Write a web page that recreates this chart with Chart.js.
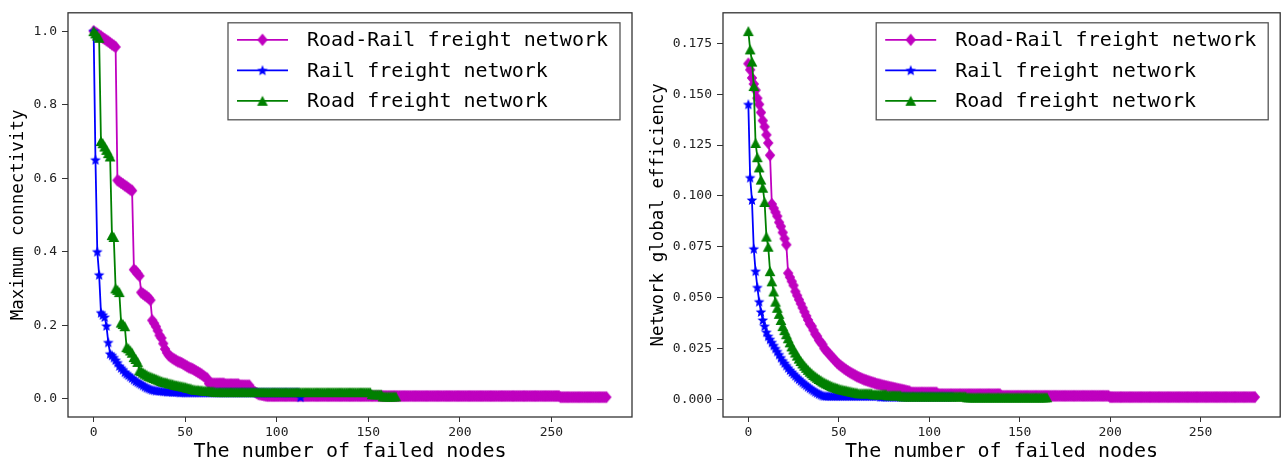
<!DOCTYPE html>
<html>
<head>
<meta charset="utf-8">
<script src="https://cdn.jsdelivr.net/npm/chart.js@4.4.1/dist/chart.umd.min.js"></script>
<style>
  html, body { margin: 0; padding: 0; background: #fff; }
  #wrap { position: relative; width: 1286px; height: 467px; overflow: hidden; }
  canvas { position: absolute; top: 0; }
  #connChart { left: 0; }
  #effChart { left: 640px; }
</style>
</head>
<body>
<div id="wrap">
  <canvas id="connChart" width="640" height="467"></canvas>
  <canvas id="effChart" width="646" height="467"></canvas>
</div>
<script>
  // constant runs (plateaus in the tail of each curve)
  const rep = (v, n) => Array(n).fill(v);

  const seriesNames = ['Road-Rail freight network', 'Rail freight network', 'Road freight network'];
  const seriesColors = ['#bf00bf', '#0000ff', '#008000'];
  const xTicks = [0, 50, 100, 150, 200, 250];
  const connTicks = [0.0, 0.2, 0.4, 0.6, 0.8, 1.0];
  const effTicks = [0.000, 0.025, 0.050, 0.075, 0.100, 0.125, 0.150, 0.175];

  // left panel: maximum connectivity, one value per failed node
  const roadRailConn = [
    1.0, 0.996, 0.993, 0.989, 0.986, 0.982, 0.979, 0.975, 0.972, 0.968, 0.964, 0.961, 0.957,
    0.594, 0.591, 0.587, 0.584, 0.580, 0.577, 0.573, 0.569, 0.566,
    0.351, 0.347, 0.340, 0.334,
    0.289, 0.285, 0.281, 0.278, 0.274, 0.268,
    0.213, 0.205, 0.196, 0.185, 0.172, 0.165, 0.150, 0.135, 0.125,
    0.118, 0.114, 0.110, 0.107, 0.104, 0.101, 0.099, 0.097, 0.094, 0.091, 0.088, 0.085, 0.083, 0.081,
    0.078, 0.075, 0.072, 0.069, 0.066, 0.062, 0.058, 0.055,
    ...rep(0.041, 9), ...rep(0.039, 8), ...rep(0.036, 6),
    0.025, 0.021, 0.018, 0.015, 0.012, 0.011, 0.010, 0.009, 0.008,
    ...rep(0.007, 160), ...rep(0.004, 26)
  ];
  const railConn = [
    1.0, 0.65, 0.40, 0.337, 0.234, 0.228, 0.222, 0.198, 0.153, 0.122, 0.118, 0.112, 0.105, 0.098,
    0.089, 0.084, 0.079, 0.072, 0.068, 0.064, 0.060, 0.056, 0.052, 0.048, 0.045, 0.042, 0.039, 0.036,
    0.033, 0.030, 0.028, 0.026, 0.024,
    0.023, 0.022, 0.022, 0.021, 0.021, 0.020, 0.020, 0.019, 0.019, 0.019, 0.018, 0.018, 0.018, 0.018,
    0.017, 0.017, 0.017, 0.017, 0.017, 0.017, 0.017,
    ...rep(0.017, 59), 0.004
  ];
  const roadConn = [
    1.0, 0.994, 0.988, 0.982,
    0.701, 0.695, 0.686, 0.677, 0.668, 0.659,
    0.445, 0.440,
    0.300, 0.296, 0.290,
    0.207, 0.203, 0.197,
    0.140, 0.137, 0.131, 0.125,
    0.113, 0.108, 0.100,
    0.077, 0.075, 0.071, 0.068, 0.065, 0.062, 0.060, 0.058, 0.056, 0.054, 0.052, 0.050, 0.048, 0.046,
    0.045, 0.044, 0.042, 0.041, 0.040, 0.038, 0.037, 0.036, 0.035, 0.034, 0.033, 0.032, 0.030, 0.029,
    0.028, 0.026,
    0.025, 0.024, 0.024, 0.023, 0.023, 0.022, 0.022, 0.021, 0.021, 0.020, 0.020, 0.019,
    ...rep(0.018, 85), ...rep(0.012, 6), ...rep(0.006, 8)
  ];

  // right panel: network global efficiency
  const roadRailEff = [
    0.165, 0.162, 0.158, 0.155, 0.152, 0.148, 0.145, 0.141, 0.137, 0.134, 0.130, 0.126, 0.120,
    0.096, 0.094, 0.092, 0.090, 0.087, 0.085, 0.082, 0.079, 0.076,
    0.062, 0.060, 0.058, 0.056, 0.053, 0.051, 0.049, 0.047, 0.045, 0.043, 0.041, 0.039, 0.037, 0.036,
    0.034, 0.032, 0.031, 0.029, 0.028, 0.027, 0.025, 0.024, 0.023, 0.022, 0.021, 0.020, 0.019, 0.018,
    0.0172, 0.0165, 0.0158, 0.0151, 0.0145, 0.0139, 0.0133, 0.0128, 0.0123, 0.0118,
    0.0113, 0.0109, 0.0105, 0.0101, 0.0097, 0.0094, 0.0091, 0.0088, 0.0085, 0.0082,
    0.0079, 0.0076, 0.0074, 0.0072, 0.0069, 0.0067, 0.0065, 0.0063, 0.0061, 0.0059,
    0.0057, 0.0055, 0.0053, 0.0051, 0.0049, 0.0047, 0.0045, 0.0043, 0.0041, 0.0039,
    ...rep(0.0033, 15), ...rep(0.0025, 35), ...rep(0.0017, 60), ...rep(0.0011, 81)
  ];
  const railEff = [
    0.145, 0.109, 0.098, 0.074, 0.063, 0.055, 0.048, 0.043, 0.039, 0.036, 0.033, 0.031, 0.0295,
    0.028, 0.0265, 0.025, 0.0235, 0.022, 0.0205, 0.019, 0.0178, 0.0166, 0.0155,
    0.0144, 0.0134, 0.0125, 0.0116, 0.0107, 0.0099, 0.0091, 0.0083, 0.0076, 0.0069,
    0.0062, 0.0055, 0.0049, 0.0043, 0.0037, 0.0032, 0.0027, 0.0023, 0.0019, 0.0017,
    ...rep(0.0016, 30), ...rep(0.0012, 41)
  ];
  const roadEff = [
    0.181, 0.172, 0.166, 0.154, 0.126, 0.119, 0.114, 0.108, 0.104, 0.097,
    0.080, 0.075, 0.063, 0.058, 0.053, 0.048, 0.045, 0.042, 0.039, 0.036,
    0.034, 0.032, 0.030, 0.028, 0.026, 0.0245, 0.023, 0.0215, 0.020, 0.0188,
    0.0176, 0.0165, 0.0155, 0.0145, 0.0136, 0.0128, 0.012, 0.0113, 0.0106, 0.0100,
    0.0094, 0.0088, 0.0083, 0.0078, 0.0074, 0.007, 0.0066, 0.0062, 0.0059, 0.0056,
    0.0053, 0.005, 0.0048, 0.0046, 0.0044, 0.0042, 0.004, 0.0038, 0.0036, 0.0034, 0.0033,
    ...rep(0.003, 8), ...rep(0.0025, 8), ...rep(0.002, 8), ...rep(0.0015, 36), ...rep(0.001, 45)
  ];

  const monoFont = "'DejaVu Sans Mono', 'Liberation Mono', monospace";

  function makeMarker(kind, color) {
    const c = document.createElement('canvas');
    c.width = 14; c.height = 14;
    const g = c.getContext('2d');
    g.fillStyle = color;
    g.beginPath();
    if (kind === 'diamond') {
      g.moveTo(7, 0.8); g.lineTo(12.2, 7); g.lineTo(7, 13.2); g.lineTo(1.8, 7);
    } else if (kind === 'star') {
      for (let i = 0; i < 10; i++) {
        const r = i % 2 ? 2.5 : 5.6;
        const a = -Math.PI / 2 + i * Math.PI / 5;
        g.lineTo(7 + r * Math.cos(a), 7.4 + r * Math.sin(a));
      }
    } else {
      g.moveTo(7, 2); g.lineTo(12.4, 12); g.lineTo(1.6, 12);
    }
    g.closePath();
    g.fill();
    return c;
  }

  const markers = [
    makeMarker('diamond', seriesColors[0]),
    makeMarker('star', seriesColors[1]),
    makeMarker('triangle', seriesColors[2])
  ];

  function makeDataset(i, values) {
    return {
      label: seriesNames[i],
      data: values.map((v, k) => ({ x: k, y: v })),
      borderColor: seriesColors[i],
      backgroundColor: seriesColors[i],
      borderWidth: 1.8,
      pointStyle: markers[i],
      pointRadius: 4,
      showLine: true,
      tension: 0,
      order: 3 - i
    };
  }

  // box around the plot area, like matplotlib spines
  const frame = {
    id: 'frame',
    afterDatasetsDraw(chart) {
      const { ctx, chartArea: a } = chart;
      ctx.save();
      ctx.strokeStyle = '#333';
      ctx.lineWidth = 1.3;
      ctx.strokeRect(a.left, a.top, a.right - a.left, a.bottom - a.top);
      ctx.restore();
    }
  };

  // matplotlib style legend: line sample + marker + label
  const legendBox = {
    id: 'legendBox',
    afterDraw(chart) {
      const { ctx, chartArea: a } = chart;
      const w = 392, h = 97;
      const left = a.right - 12 - w, top = a.top + 10;
      ctx.save();
      ctx.fillStyle = '#fff';
      ctx.fillRect(left, top, w, h);
      ctx.strokeStyle = '#555';
      ctx.lineWidth = 1.3;
      ctx.strokeRect(left, top, w, h);
      chart.data.datasets.forEach((ds, i) => {
        const y = top + 17 + i * 30.5;
        ctx.strokeStyle = ds.borderColor;
        ctx.lineWidth = 1.8;
        ctx.beginPath();
        ctx.moveTo(left + 9, y);
        ctx.lineTo(left + 60, y);
        ctx.stroke();
        const m = ds.pointStyle;
        ctx.drawImage(m, left + 34.5 - m.width / 2, y - m.height / 2);
        ctx.fillStyle = '#000';
        ctx.font = '20px ' + monoFont;
        ctx.textBaseline = 'middle';
        ctx.fillText(ds.label, left + 79, y + 1);
      });
      ctx.restore();
    }
  };

  function panelOptions(cfg) {
    const tickFont = { family: monoFont, size: 13 };
    return {
      responsive: false,
      animation: false,
      events: [],
      layout: { padding: { top: 8, right: cfg.padRight, left: 0, bottom: 0 } },
      plugins: { legend: { display: false }, tooltip: { enabled: false } },
      scales: {
        x: {
          type: 'linear',
          min: -14, max: 294,
          afterBuildTicks: s => { s.ticks = xTicks.map(v => ({ value: v })); },
          afterFit: s => { s.height = 50; },
          border: { display: false },
          grid: { drawOnChartArea: false, drawTicks: true, tickLength: 5, color: '#333' },
          ticks: { font: tickFont, color: '#222', padding: 3, maxRotation: 0, callback: v => String(v) },
          title: {
            display: true, text: 'The number of failed nodes', color: '#000',
            font: { family: monoFont, size: 20 }, padding: { top: 0, bottom: 3 }
          }
        },
        y: {
          type: 'linear',
          min: cfg.yMin, max: cfg.yMax,
          afterBuildTicks: s => { s.ticks = cfg.yTicks.map(v => ({ value: v })); },
          afterFit: s => { s.width = cfg.yWidth; },
          border: { display: false },
          grid: { drawOnChartArea: false, drawTicks: true, tickLength: 6, color: '#333' },
          ticks: { font: tickFont, color: '#222', padding: 5, callback: v => v.toFixed(cfg.decimals) },
          title: {
            display: true, text: cfg.yTitle, color: '#000',
            font: { family: monoFont, size: 17.5 }, padding: { top: 8, bottom: 0 }
          }
        }
      }
    };
  }

  new Chart(document.getElementById('connChart'), {
    type: 'scatter',
    data: { datasets: [makeDataset(0, roadRailConn), makeDataset(1, railConn), makeDataset(2, roadConn)] },
    options: panelOptions({
      yMin: -0.05, yMax: 1.05, yTicks: connTicks, decimals: 1,
      yWidth: 68, padRight: 8, yTitle: 'Maximum connectivity'
    }),
    plugins: [frame, legendBox]
  });

  new Chart(document.getElementById('effChart'), {
    type: 'scatter',
    data: { datasets: [makeDataset(0, roadRailEff), makeDataset(1, railEff), makeDataset(2, roadEff)] },
    options: panelOptions({
      yMin: -0.0087, yMax: 0.19, yTicks: effTicks, decimals: 3,
      yWidth: 83, padRight: 1, yTitle: 'Network global efficiency'
    }),
    plugins: [frame, legendBox]
  });
</script>
</body>
</html>
